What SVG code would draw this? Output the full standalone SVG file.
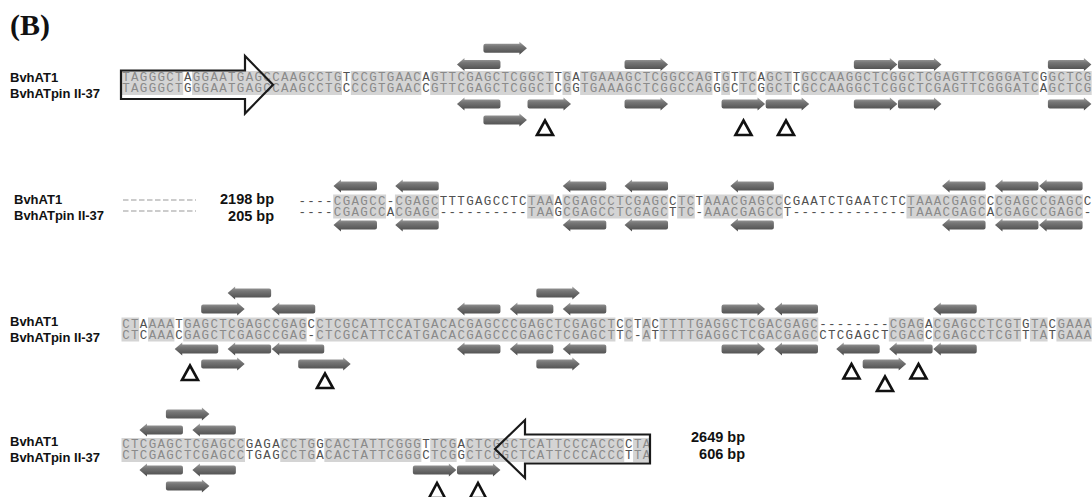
<svg xmlns="http://www.w3.org/2000/svg" width="1092" height="497" viewBox="0 0 1092 497">
<defs>
<linearGradient id="ag" x1="0" y1="0" x2="0" y2="1">
<stop offset="0" stop-color="#a6a6a6"/>
<stop offset="0.35" stop-color="#767676"/>
<stop offset="1" stop-color="#4a4a4a"/>
</linearGradient>
<path id="r5" d="M2,-4.5H36V-6.5L43.5,0L36,6.5V4.5H2Q0,4.5 0,2.5V-2.5Q0,-4.5 2,-4.5Z"/>
<path id="l5" d="M0,0L7.5,-6.5V-4.5H41.5Q43.5,-4.5 43.5,-2.5V2.5Q43.5,4.5 41.5,4.5H7.5V6.5Z"/>
<path id="r6" d="M2,-4.5H45V-6.5L52.5,0L45,6.5V4.5H2Q0,4.5 0,2.5V-2.5Q0,-4.5 2,-4.5Z"/>
<path id="l6" d="M0,0L7.5,-6.5V-4.5H50.5Q52.5,-4.5 52.5,-2.5V2.5Q52.5,4.5 50.5,4.5H7.5V6.5Z"/>
</defs>
<style>
.title{font-family:"Liberation Serif","Times New Roman",serif;font-weight:bold;font-size:30px;fill:#111}
.lbl{font-family:"Liberation Sans",Arial,sans-serif;font-weight:bold;font-size:13px;fill:#111}
.bp{font-family:"Liberation Sans",Arial,sans-serif;font-weight:bold;font-size:14.5px;fill:#111;text-anchor:end}
.seq{font-family:"Liberation Mono","Courier New",monospace;font-size:12.5px;letter-spacing:1.32px}
.m{fill:#8a8a8a}
.u{fill:#505050}
.sh rect{fill:#d4d4d4}
.ar use{fill:url(#ag)}
.tri path{fill:none;stroke:#111;stroke-width:2.6}
.big{fill:none;stroke:#1a1a1a;stroke-width:2.2}
.gap{stroke:#999;stroke-width:1.2;stroke-dasharray:5.5 2.5}
</style>

<g id="title"><text class="title" x="10" y="35">(B)</text></g>

<g id="labels">
<text class="lbl" x="10" y="81.5">BvhAT1</text>
<text class="lbl" x="10" y="98">BvhATpin II-37</text>
<text class="lbl" x="14" y="203.5">BvhAT1</text>
<text class="lbl" x="14" y="220">BvhATpin II-37</text>
<text class="lbl" x="10" y="325.5">BvhAT1</text>
<text class="lbl" x="10" y="342">BvhATpin II-37</text>
<text class="lbl" x="10" y="445.5">BvhAT1</text>
<text class="lbl" x="10" y="462">BvhATpin II-37</text>
<text class="bp" x="274" y="204">2198 bp</text>
<text class="bp" x="274" y="221">205 bp</text>
<text class="bp" x="745" y="442">2649 bp</text>
<text class="bp" x="745" y="459">606 bp</text>
</g>

<g id="row1">
<g class="sh">
<rect x="121.5" y="71" width="61.74" height="24"/>
<rect x="192.06" y="71" width="149.94" height="24"/>
<rect x="350.82" y="71" width="70.56" height="24"/>
<rect x="430.2" y="71" width="123.48" height="24"/>
<rect x="562.5" y="71" width="8.82" height="24"/>
<rect x="580.14" y="71" width="132.3" height="24"/>
<rect x="721.26" y="71" width="8.82" height="24"/>
<rect x="738.9" y="71" width="17.64" height="24"/>
<rect x="765.36" y="71" width="26.46" height="24"/>
<rect x="800.64" y="71" width="238.14" height="24"/>
<rect x="1047.6" y="71" width="44.1" height="24"/>
</g>
<text class="seq" x="122.2" y="81"><tspan class="m">TAGGGCT</tspan><tspan class="u">A</tspan><tspan class="m">GGAATGAGCCAAGCCTG</tspan><tspan class="u">T</tspan><tspan class="m">CCGTGAAC</tspan><tspan class="u">A</tspan><tspan class="m">GTTCGAGCTCGGCT</tspan><tspan class="u">T</tspan><tspan class="m">G</tspan><tspan class="u">A</tspan><tspan class="m">TGAAAGCTCGGCCAG</tspan><tspan class="u">T</tspan><tspan class="m">G</tspan><tspan class="u">T</tspan><tspan class="m">TC</tspan><tspan class="u">A</tspan><tspan class="m">GCT</tspan><tspan class="u">T</tspan><tspan class="m">GCCAAGGCTCGGCTCGAGTTCGGGATC</tspan><tspan class="u">G</tspan><tspan class="m">GCTCG</tspan></text>
<text class="seq" x="122.2" y="92"><tspan class="m">TAGGGCT</tspan><tspan class="u">G</tspan><tspan class="m">GGAATGAGCCAAGCCTG</tspan><tspan class="u">C</tspan><tspan class="m">CCGTGAAC</tspan><tspan class="u">C</tspan><tspan class="m">GTTCGAGCTCGGCT</tspan><tspan class="u">C</tspan><tspan class="m">G</tspan><tspan class="u">G</tspan><tspan class="m">TGAAAGCTCGGCCAG</tspan><tspan class="u">G</tspan><tspan class="m">G</tspan><tspan class="u">C</tspan><tspan class="m">TC</tspan><tspan class="u">G</tspan><tspan class="m">GCT</tspan><tspan class="u">C</tspan><tspan class="m">GCCAAGGCTCGGCTCGAGTTCGGGATC</tspan><tspan class="u">A</tspan><tspan class="m">GCTCG</tspan></text>
<path class="big" d="M121,70.5H245V56L273,84.75L245,113.5V99H121Z"/>
<g class="ar">
<use href="#l5" x="456.96" y="64.5"/>
<use href="#r5" x="483.42" y="48.3"/>
<use href="#r5" x="624.54" y="64.5"/>
<use href="#r5" x="853.86" y="64.5"/>
<use href="#r5" x="897.96" y="64.5"/>
<use href="#r5" x="1047.9" y="64.5"/>
<use href="#l5" x="456.96" y="104"/>
<use href="#r5" x="483.42" y="120"/>
<use href="#r5" x="527.52" y="104"/>
<use href="#r5" x="624.54" y="104"/>
<use href="#r5" x="721.56" y="104"/>
<use href="#r5" x="765.66" y="104"/>
<use href="#r5" x="853.86" y="104"/>
<use href="#r5" x="897.96" y="104"/>
<use href="#r5" x="1047.9" y="104"/>
</g>
<g class="tri">
<path d="M537,135L545,120.5L553,135Z"/>
<path d="M735.5,135L743.5,120.5L751.5,135Z"/>
<path d="M778,135L786,120.5L794,135Z"/>
</g>
</g>

<g id="row2">
<line class="gap" x1="123" y1="200" x2="196" y2="200"/>
<line class="gap" x1="123" y1="211" x2="196" y2="211"/>
<g class="sh">
<rect x="333.18" y="194.5" width="52.92" height="24"/>
<rect x="394.92" y="194.5" width="44.1" height="24"/>
<rect x="527.22" y="194.5" width="26.46" height="24"/>
<rect x="562.5" y="194.5" width="105.84" height="24"/>
<rect x="677.16" y="194.5" width="17.64" height="24"/>
<rect x="703.62" y="194.5" width="79.38" height="24"/>
<rect x="906.48" y="194.5" width="79.38" height="24"/>
<rect x="994.68" y="194.5" width="88.2" height="24"/>
</g>
<text class="seq" x="298.56" y="204.5"><tspan class="u">----</tspan><tspan class="m">CGAGCC</tspan><tspan class="u">-</tspan><tspan class="m">CGAGC</tspan><tspan class="u">TTTGAGCCTC</tspan><tspan class="m">TAA</tspan><tspan class="u">A</tspan><tspan class="m">CGAGCCTCGAGC</tspan><tspan class="u">C</tspan><tspan class="m">TC</tspan><tspan class="u">T</tspan><tspan class="m">AAACGAGCC</tspan><tspan class="u">CGAATCTGAATCTC</tspan><tspan class="m">TAAACGAGC</tspan><tspan class="u">C</tspan><tspan class="m">CGAGCCGAGC</tspan><tspan class="u">C</tspan></text>
<text class="seq" x="298.56" y="215.5"><tspan class="u">----</tspan><tspan class="m">CGAGCC</tspan><tspan class="u">A</tspan><tspan class="m">CGAGC</tspan><tspan class="u">----------</tspan><tspan class="m">TAA</tspan><tspan class="u">G</tspan><tspan class="m">CGAGCCTCGAGC</tspan><tspan class="u">T</tspan><tspan class="m">TC</tspan><tspan class="u">-</tspan><tspan class="m">AAACGAGCC</tspan><tspan class="u">T-------------</tspan><tspan class="m">TAAACGAGC</tspan><tspan class="u">A</tspan><tspan class="m">CGAGCCGAGC</tspan><tspan class="u">-</tspan></text>
<g class="ar">
<use href="#l5" x="333.48" y="186"/>
<use href="#l5" x="395.22" y="186"/>
<use href="#l5" x="562.8" y="186"/>
<use href="#l5" x="624.54" y="186"/>
<use href="#l5" x="730.38" y="186"/>
<use href="#l5" x="942.06" y="186"/>
<use href="#l5" x="994.98" y="186"/>
<use href="#l5" x="1039.08" y="186"/>
<use href="#l5" x="333.48" y="225"/>
<use href="#l5" x="395.22" y="225"/>
<use href="#l5" x="562.8" y="225"/>
<use href="#l5" x="624.54" y="225"/>
<use href="#l5" x="730.38" y="225"/>
<use href="#l5" x="942.06" y="225"/>
<use href="#l5" x="994.98" y="225"/>
<use href="#l5" x="1039.08" y="225"/>
</g>
</g>

<g id="row3">
<g class="sh">
<rect x="121.5" y="317.5" width="17.64" height="24"/>
<rect x="147.96" y="317.5" width="26.46" height="24"/>
<rect x="183.24" y="317.5" width="123.48" height="24"/>
<rect x="315.54" y="317.5" width="299.88" height="24"/>
<rect x="624.24" y="317.5" width="8.82" height="24"/>
<rect x="641.88" y="317.5" width="8.82" height="24"/>
<rect x="659.52" y="317.5" width="158.76" height="24"/>
<rect x="888.84" y="317.5" width="35.28" height="24"/>
<rect x="932.94" y="317.5" width="88.2" height="24"/>
<rect x="1029.96" y="317.5" width="17.64" height="24"/>
<rect x="1056.42" y="317.5" width="35.28" height="24"/>
</g>
<text class="seq" x="122.2" y="327.5"><tspan class="m">CT</tspan><tspan class="u">A</tspan><tspan class="m">AAA</tspan><tspan class="u">T</tspan><tspan class="m">GAGCTCGAGCCGAG</tspan><tspan class="u">C</tspan><tspan class="m">CTCGCATTCCATGACACGAGCCCGAGCTCGAGCT</tspan><tspan class="u">C</tspan><tspan class="m">C</tspan><tspan class="u">T</tspan><tspan class="m">A</tspan><tspan class="u">C</tspan><tspan class="m">TTTTGAGGCTCGACGAGC</tspan><tspan class="u">--------</tspan><tspan class="m">CGAG</tspan><tspan class="u">A</tspan><tspan class="m">CGAGCCTCGT</tspan><tspan class="u">G</tspan><tspan class="m">TA</tspan><tspan class="u">C</tspan><tspan class="m">GAAA</tspan></text>
<text class="seq" x="122.2" y="338.5"><tspan class="m">CT</tspan><tspan class="u">C</tspan><tspan class="m">AAA</tspan><tspan class="u">C</tspan><tspan class="m">GAGCTCGAGCCGAG</tspan><tspan class="u">-</tspan><tspan class="m">CTCGCATTCCATGACACGAGCCCGAGCTCGAGCT</tspan><tspan class="u">T</tspan><tspan class="m">C</tspan><tspan class="u">-</tspan><tspan class="m">A</tspan><tspan class="u">T</tspan><tspan class="m">TTTTGAGGCTCGACGAGC</tspan><tspan class="u">CTCGAGCT</tspan><tspan class="m">CGAG</tspan><tspan class="u">C</tspan><tspan class="m">CGAGCCTCGT</tspan><tspan class="u">T</tspan><tspan class="m">TA</tspan><tspan class="u">T</tspan><tspan class="m">GAAA</tspan></text>
<g class="ar">
<use href="#r5" x="201.18" y="309"/>
<use href="#l5" x="227.64" y="293"/>
<use href="#l5" x="271.74" y="309"/>
<use href="#l5" x="456.96" y="309"/>
<use href="#l5" x="509.88" y="309"/>
<use href="#r5" x="536.34" y="293"/>
<use href="#l5" x="562.8" y="309"/>
<use href="#r5" x="721.56" y="309"/>
<use href="#l5" x="774.48" y="309"/>
<use href="#l5" x="933.24" y="309"/>
<use href="#l5" x="174.72" y="349"/>
<use href="#r5" x="201.18" y="364"/>
<use href="#l5" x="227.64" y="349"/>
<use href="#l6" x="271.74" y="349"/>
<use href="#r6" x="298.2" y="364"/>
<use href="#l5" x="456.96" y="349"/>
<use href="#l5" x="509.88" y="349"/>
<use href="#r5" x="536.34" y="364"/>
<use href="#l5" x="562.8" y="349"/>
<use href="#r5" x="721.56" y="349"/>
<use href="#l5" x="774.48" y="349"/>
<use href="#l5" x="836.22" y="349"/>
<use href="#r5" x="862.68" y="364"/>
<use href="#l5" x="889.14" y="349"/>
<use href="#l5" x="933.24" y="349"/>
</g>
<g class="tri">
<path d="M182,380L190,365.5L198,380Z"/>
<path d="M317,388L325,373.5L333,388Z"/>
<path d="M843.5,378.5L851.5,364L859.5,378.5Z"/>
<path d="M877,391L885,376.5L893,391Z"/>
<path d="M910.5,378.5L918.5,364L926.5,378.5Z"/>
</g>
</g>

<g id="row4">
<g class="sh">
<rect x="121.5" y="438" width="123.48" height="24"/>
<rect x="280.26" y="438" width="35.28" height="24"/>
<rect x="324.36" y="438" width="97.02" height="24"/>
<rect x="430.2" y="438" width="26.46" height="24"/>
<rect x="465.48" y="438" width="158.76" height="24"/>
<rect x="633.06" y="438" width="17.64" height="24"/>
</g>
<text class="seq" x="122.2" y="448"><tspan class="m">CTCGAGCTCGAGCC</tspan><tspan class="u">GAGA</tspan><tspan class="m">CCTG</tspan><tspan class="u">G</tspan><tspan class="m">CACTATTCGGG</tspan><tspan class="u">T</tspan><tspan class="m">TCG</tspan><tspan class="u">A</tspan><tspan class="m">CTCGGCTCATTCCCACCC</tspan><tspan class="u">C</tspan><tspan class="m">TA</tspan></text>
<text class="seq" x="122.2" y="459"><tspan class="m">CTCGAGCTCGAGCC</tspan><tspan class="u">TGAG</tspan><tspan class="m">CCTG</tspan><tspan class="u">A</tspan><tspan class="m">CACTATTCGGG</tspan><tspan class="u">C</tspan><tspan class="m">TCG</tspan><tspan class="u">G</tspan><tspan class="m">CTCGGCTCATTCCCACCC</tspan><tspan class="u">T</tspan><tspan class="m">TA</tspan></text>
<path class="big" d="M650,434.5H525V420L495,449L525,478V463.5H650Z"/>
<g class="ar">
<use href="#l5" x="139.44" y="430"/>
<use href="#r5" x="165.9" y="414"/>
<use href="#l5" x="192.36" y="430"/>
<use href="#l5" x="139.44" y="470"/>
<use href="#r5" x="165.9" y="486"/>
<use href="#l5" x="192.36" y="470"/>
<use href="#r5" x="412.86" y="470"/>
<use href="#r5" x="456.96" y="470"/>
</g>
<g class="tri">
<path d="M429,498L437,483L445,498Z"/>
<path d="M470,498L478,483L486,498Z"/>
</g>
</g>
</svg>
